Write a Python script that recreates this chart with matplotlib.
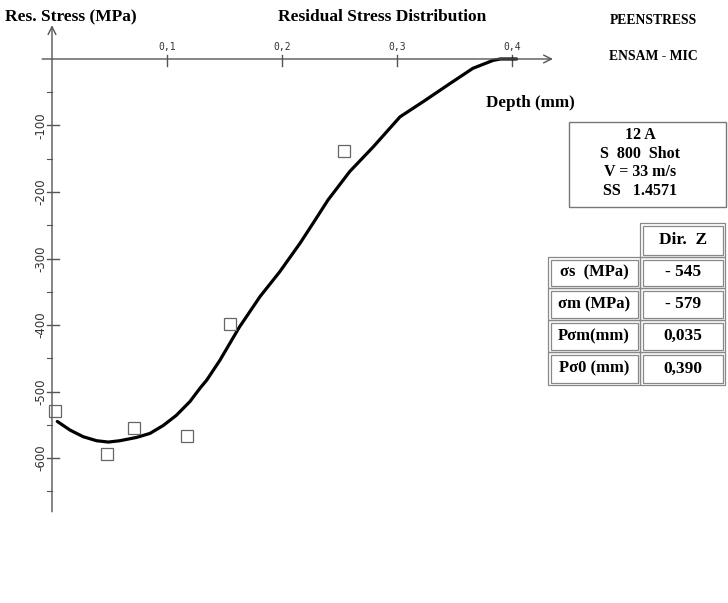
import matplotlib
matplotlib.use("Agg")
import matplotlib.pyplot as plt
from matplotlib.patches import Rectangle

# Measured points (depth mm, stress MPa)
meas_depth = [0.003, 0.048, 0.071, 0.117, 0.155, 0.254]
meas_stress = [-529, -594, -555, -567, -398, -138]

# Fitted profile
fit_depth = [0.0046, 0.0157, 0.0272, 0.0388, 0.049, 0.059, 0.0736, 0.0852, 0.0968,
             0.108, 0.12, 0.1287, 0.1345, 0.146, 0.163, 0.181, 0.198, 0.2157,
             0.227, 0.240, 0.259, 0.2794, 0.3026, 0.3229, 0.346, 0.366, 0.3837,
             0.39, 0.404]
fit_stress = [-545, -558, -568, -574, -576, -574, -569, -563, -551,
              -536, -515, -495, -483, -453, -403, -357, -320, -277,
              -247, -212, -169, -132, -87, -64, -37, -14, -2,
              0, 0]

x_ticks = [0.1, 0.2, 0.3, 0.4]
x_labels = ["0,1", "0,2", "0,3", "0,4"]
y_ticks = [-100, -200, -300, -400, -500, -600]
y_minor = [-50, -150, -250, -350, -450, -550, -650]

info_lines = ["12 A", "S  800  Shot", "V = 33 m/s", "SS   1.4571"]
table_header = "Dir.  Z"
table_rows = ["σs  (MPa)", "σm (MPa)", "Pσm(mm)", "Pσ0 (mm)"]
table_vals = ["- 545", "- 579", "0,035", "0,390"]

W, H = 728, 603
fig = plt.figure(figsize=(W / 100, H / 100), dpi=100)
ax = fig.add_axes([0, 0, 1, 1])
ax.set_xlim(-0.0452, 0.5878)
ax.set_ylim(-818, 88.7)
ax.axis("off")


def fx(x):
    return x / W


def fy(y):
    return 1 - y / H


serif = "Liberation Serif"
axis_col = "#555555"

# axes with open arrow heads
ax.annotate("", xy=(0.438, 0), xytext=(-0.011, 0),
            arrowprops=dict(arrowstyle="->", color=axis_col, lw=1, mutation_scale=14))
ax.annotate("", xy=(0, 55), xytext=(0, -685),
            arrowprops=dict(arrowstyle="->", color=axis_col, lw=1, mutation_scale=14))

# x ticks
for t, lab in zip(x_ticks, x_labels):
    ax.plot([t, t], [-10, 6], color=axis_col, lw=1)
    ax.text(t, 10, lab, ha="center", va="bottom", fontsize=7,
            family="DejaVu Sans Mono", color="#333333")

# y ticks
for t in y_ticks:
    ax.plot([-0.004, 0.006], [t, t], color=axis_col, lw=1)
    ax.text(-0.010, t, str(t), rotation=90, ha="center", va="center",
            fontsize=8.5, color="#333333")
for t in y_minor:
    ax.plot([-0.004, 0], [t, t], color=axis_col, lw=0.8)

# data
ax.plot(fit_depth, fit_stress, color="black", lw=2.3, solid_capstyle="round",
        solid_joinstyle="round")
ax.plot(meas_depth, meas_stress, linestyle="none", marker="s", markersize=8,
        markerfacecolor="none", markeredgecolor="#666666", markeredgewidth=0.9)

# titles
fig.text(fx(5), fy(17), "Res. Stress (MPa)", ha="left", va="center",
         fontsize=12.5, fontweight="bold", family=serif)
fig.text(fx(382), fy(17), "Residual Stress Distribution", ha="center", va="center",
         fontsize=12.5, fontweight="bold", family=serif)
fig.text(fx(653), fy(20), "PEENSTRESS", ha="center", va="center",
         fontsize=9.8, fontweight="bold", family=serif)
fig.text(fx(653), fy(56), "ENSAM - MIC", ha="center", va="center",
         fontsize=9.8, fontweight="bold", family=serif)
fig.text(fx(530), fy(103), "Depth (mm)", ha="center", va="center",
         fontsize=12.3, fontweight="bold", family=serif)

# info box
fig.patches.append(Rectangle((fx(569), fy(207)), fx(726 - 569), (207 - 122) / H,
                             transform=fig.transFigure, fill=False,
                             edgecolor="#777777", lw=1))
for i, line in enumerate(info_lines):
    fig.text(fx(640), fy(135 + 18.5 * i), line, ha="center", va="center",
             fontsize=11.5, fontweight="bold", family=serif)


def cell(x0, y0, x1, y1):
    for off in (0, 2.5):
        fig.patches.append(Rectangle((fx(x0 + off), fy(y1 - off)),
                                     fx(x1 - x0 - 2 * off), (y1 - y0 - 2 * off) / H,
                                     transform=fig.transFigure, fill=False,
                                     edgecolor="#888888", lw=0.9))


# table
cell(640, 223, 725, 257)
fig.text(fx(683), fy(240), table_header, ha="center", va="center",
         fontsize=12.5, fontweight="bold", family=serif)
row_edges = [257, 288, 320, 352, 385]
for i, (lab, val) in enumerate(zip(table_rows, table_vals)):
    y0, y1 = row_edges[i], row_edges[i + 1]
    cell(548, y0, 640, y1)
    cell(640, y0, 725, y1)
    fig.text(fx(594), fy((y0 + y1) / 2), lab, ha="center", va="center",
             fontsize=12, fontweight="bold", family=serif)
    fig.text(fx(683), fy((y0 + y1) / 2), val, ha="center", va="center",
             fontsize=12.5, fontweight="bold", family=serif)

fig.savefig("out.png", dpi=100)
